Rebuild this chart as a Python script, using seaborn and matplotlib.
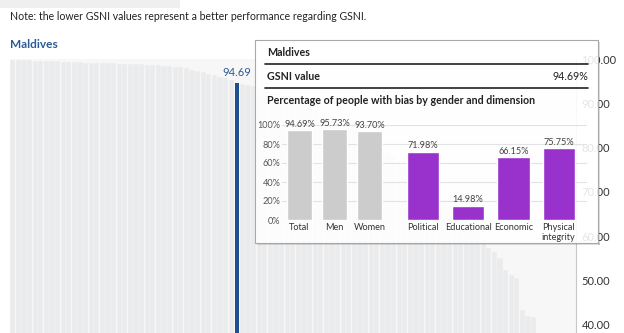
import numpy as np
import pandas as pd
import matplotlib
matplotlib.use("Agg")
import matplotlib.pyplot as plt
import seaborn as sns
from matplotlib.patches import Rectangle
from matplotlib.lines import Line2D

# ---------------- data ----------------
country_name = "Maldives"
note_text = "Note: the lower GSNI values represent a better performance regarding GSNI."
gsni_values = [
    99.8, 99.8, 99.7, 99.7, 99.6, 99.6, 99.6, 99.5, 99.5,
    99.4, 99.4, 99.3, 99.3, 99.2, 99.2, 99.1, 99.1, 99.0, 99.0,
    98.9, 98.9, 98.9, 98.8, 98.8, 98.7, 98.7, 98.6, 98.5,
    98.4, 98.3, 98.2, 98.0,
    97.6, 97.4, 97.0,
    96.6, 96.3, 96.0,
    95.7, 95.2,
    94.69,
    94.4, 94.1, 93.8, 93.5, 93.0, 92.6, 92.2, 91.7, 91.2, 90.8,
    90.2, 89.7, 89.1, 88.5, 87.9, 87.3, 86.6, 86.0, 85.3, 84.5,
    83.8, 83.0, 82.2, 81.4, 80.5, 79.6, 78.7, 77.8, 76.9, 75.9,
    74.9, 73.9, 72.8, 71.7, 70.6, 69.5, 68.3, 67.1, 65.9, 64.6,
    63.3, 62.0, 60.6, 59.2,
    57.3, 56.4, 55.0, 52.4, 51.2, 50.6, 43.3, 42.0, 41.8,
]
highlight_index = 40
gsni_value_label = "94.69%"
gender_labels = ["Total", "Men", "Women"]
gender_values = [94.69, 95.73, 93.70]
dimension_labels = ["Political", "Educational", "Economic", "Physical\nintegrity"]
dimension_values = [71.98, 14.98, 66.15, 75.75]
main_ticks = [40, 50, 60, 70, 80, 90, 100]
inner_ticks = [0, 20, 40, 60, 80, 100]

# ---------------- style ----------------
sns.set_theme(style="white")
plt.rcParams["font.family"] = ["Lato", "DejaVu Sans"]

W, H = 624, 333
fig = plt.figure(figsize=(W / 100, H / 100), dpi=100)
fig.patch.set_facecolor("white")


def fx(px):
    return px / W


def fy(py):
    return 1 - py / H


BLUE = "#2a5b98"

# ---------------- main chart ----------------
ax = fig.add_axes([fx(10), 0, fx(576) - fx(10), fy(59)])
ax.set_facecolor("#f7f7f7")
df = pd.DataFrame({"rank": range(len(gsni_values)), "value": gsni_values})
df["group"] = np.where(df["rank"] == highlight_index, "sel", "other")
sns.barplot(data=df, x="rank", y="value", hue="group",
            palette={"other": "#eaebec", "sel": "#1f4f8f"},
            dodge=False, width=0.9, saturation=1, edgecolor="#f9f9f9",
            linewidth=0.3, legend=False, ax=ax)
for p in ax.patches:
    fc = p.get_facecolor()
    if fc[2] > 0.5 and fc[0] < 0.3:
        cx = p.get_x() + p.get_width() / 2
        p.set_width(0.72)
        p.set_x(cx - 0.36)
        p.set_edgecolor("none")
        p.set_zorder(3)

ax.set_xlim(-0.5, (576 - 10) / 5.6 - 0.5)
ax.set_ylim(38.1, 100)
ax.set_xticks([])
ax.set_xlabel("")
ax.set_ylabel("")
ax.yaxis.tick_right()
ax.set_yticks(main_ticks)
ax.set_yticklabels([f"{t:.2f}" for t in main_ticks])
ax.tick_params(axis="y", length=0, pad=4, labelsize=8, labelcolor="#333333")
for s in ["left", "top", "bottom"]:
    ax.spines[s].set_visible(False)
ax.spines["right"].set_color("#c8c8c8")
ax.spines["right"].set_linewidth(0.8)
hv = gsni_values[highlight_index]
ax.text(highlight_index, hv + 1.0, f"{hv:.2f}", ha="center", va="bottom",
        fontsize=8, color=BLUE)

# ---------------- header ----------------
fig.add_artist(Rectangle((0, fy(8)), fx(180), fy(0) - fy(8),
                         facecolor="#efefef", edgecolor="none"))
fig.text(fx(10), fy(17), note_text, fontsize=7.6, color="#222222", va="center")
fig.text(fx(10), fy(44), country_name, fontsize=8.6, color=BLUE,
         weight="bold", va="center")

# ---------------- tooltip ----------------
x0, x1, y0, y1 = 255, 598, 40, 243
# soft shadow strips (bottom and right)
fig.add_artist(Rectangle((fx(x0 + 2), fy(y1 + 2)), fx(x1) - fx(x0),
                         fy(y1) - fy(y1 + 2), facecolor="#000000", alpha=0.12,
                         edgecolor="none", zorder=2))
fig.add_artist(Rectangle((fx(x1), fy(y1 + 2)), fx(x1 + 2) - fx(x1),
                         fy(y0 + 2) - fy(y1 + 2), facecolor="#000000",
                         alpha=0.12, edgecolor="none", zorder=2))
fig.add_artist(Rectangle((fx(x0), fy(y1)), fx(x1) - fx(x0), fy(y0) - fy(y1),
                         facecolor=(1, 1, 1, 0.88), edgecolor="#a8a8a8",
                         linewidth=0.8, zorder=2.1))
for ly in (64, 88):
    fig.add_artist(Line2D([fx(265), fx(588)], [fy(ly), fy(ly)],
                          color="#222222", linewidth=1.2, zorder=3))
fig.text(fx(267), fy(52), country_name, fontsize=7.7, weight="bold",
         color="#222222", va="center", zorder=4)
fig.text(fx(267), fy(76), "GSNI value", fontsize=7.7, weight="bold",
         color="#222222", va="center", zorder=4)
fig.text(fx(588), fy(76), gsni_value_label, fontsize=7.7, color="#222222",
         va="center", ha="right", zorder=4)
fig.text(fx(267), fy(100), "Percentage of people with bias by gender and dimension",
         fontsize=7.7, weight="bold", color="#222222", va="center", zorder=4)

# inner charts
axL = fig.add_axes([fx(282), fy(220), fx(400) - fx(282), fy(125) - fy(220)])
axR = fig.add_axes([fx(400), fy(220), fx(587) - fx(400), fy(125) - fy(220)])
sns.barplot(x=gender_labels, y=gender_values, color="#cccccc", width=0.72,
            saturation=1, ax=axL)
sns.barplot(x=dimension_labels, y=dimension_values, color="#9932cc",
            width=0.71, saturation=1, ax=axR)
axL.set_xlim(-0.5, 2.87)
axR.set_xlim(-0.5, 3.62)
for a in (axL, axR):
    a.set_zorder(5)
    a.patch.set_alpha(0)
    a.set_ylim(0, 100)
    a.set_yticks(inner_ticks)
    a.yaxis.grid(True, color="#e2e2e2", linewidth=0.8)
    a.set_axisbelow(True)
    for s in a.spines.values():
        s.set_visible(False)
    a.set_xlabel("")
    a.set_ylabel("")
    a.tick_params(axis="x", length=0, pad=2, labelsize=6.6, labelcolor="#333333")
    a.bar_label(a.containers[0], fmt="{:.2f}%", padding=1, fontsize=6.6,
                color="#444444")
axL.set_yticklabels([f"{t}%" for t in inner_ticks])
axL.tick_params(axis="y", length=0, pad=1, labelsize=6.6, labelcolor="#555555")
axR.tick_params(axis="y", left=False, labelleft=False)

fig.savefig("out.png", dpi=100)
